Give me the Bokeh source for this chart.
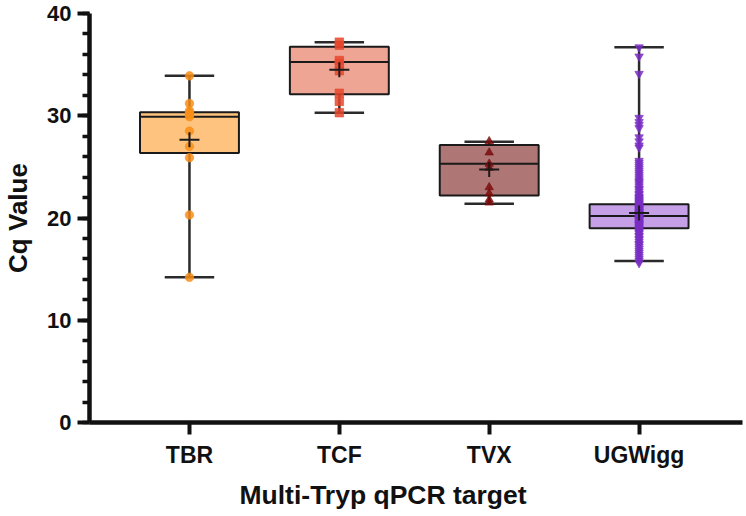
from bokeh.plotting import figure
from bokeh.models import Range1d, FixedTicker, SingleIntervalTicker, ColumnDataSource, Title
from bokeh.embed import file_html
from bokeh.resources import INLINE
import math

# Targets and box summaries (Cq values)
categories = ["TBR", "TCF", "TVX", "UGWigg"]
whisker_low = [14.2, 30.3, 21.4, 15.8]
q1 = [26.35, 32.1, 22.2, 19.0]
median = [29.9, 35.25, 25.3, 20.2]
q3 = [30.35, 36.75, 27.15, 21.35]
whisker_high = [33.9, 37.2, 27.45, 36.7]
means = [27.65, 34.5, 24.75, 20.5]

box_fill = ["#FEC47F", "#EEA594", "#AF7676", "#C6A0E6"]
point_color = ["#F98E16", "#E6472B", "#7A0C0C", "#7A2EC4"]
point_marker = ["circle", "square", "triangle", "inverted_triangle"]

# Individual measurements per target
tbr_points = [33.9, 31.2, 30.5, 30.3, 30.1, 29.9, 28.5, 27.0, 25.9, 20.3, 14.2]
tcf_points = [37.2, 36.9, 35.4, 35.1, 34.4, 32.2, 31.4, 30.3]
tvx_points = [27.5, 26.4, 25.3, 24.9, 23.0, 22.4, 21.8, 21.5]
ugwigg_points = [
    36.7, 35.8, 34.1, 29.8, 29.4, 29.1, 28.8, 27.9, 27.5, 27.1, 26.9,
    25.6, 25.4, 25.2, 25.0, 24.8, 24.6, 24.4, 24.2, 24.0, 23.8, 23.6,
    23.5, 23.3, 23.1, 22.9, 22.8, 22.6, 22.4, 22.3, 22.1, 22.0, 21.9,
    21.8, 21.7, 21.6, 21.5, 21.4, 21.3, 21.2, 21.1, 21.0, 20.9, 20.9,
    20.8, 20.7, 20.6, 20.6, 20.5, 20.4, 20.4, 20.3, 20.2, 20.2, 20.1,
    20.0, 20.0, 19.9, 19.8, 19.8, 19.7, 19.6, 19.5, 19.4, 19.4, 19.3,
    19.2, 19.1, 19.0, 18.9, 18.8, 18.7, 18.6, 18.5, 18.3, 18.2, 18.0,
    17.9, 17.7, 17.5, 17.4, 17.2, 17.0, 16.8, 16.6, 16.4, 16.2, 16.0,
    15.8, 15.6,
]
all_points = [tbr_points, tcf_points, tvx_points, ugwigg_points]

FONT = "Liberation Sans"
INK = "#111111"

p = figure(
    width=746, height=516,
    x_range=Range1d(-0.667, 3.69), y_range=Range1d(0, 40),
    output_backend="svg", toolbar_location=None,
    min_border_left=88, min_border_right=4,
    min_border_top=13, min_border_bottom=94,
)
p.outline_line_color = None
p.grid.visible = False
p.background_fill_color = "white"
p.border_fill_color = "white"

xs = list(range(len(categories)))
box_w = 0.66
cap_w = 0.33

# whiskers
p.segment(x0=xs, y0=whisker_low, x1=xs, y1=q1, line_color="#2a2a2a", line_width=2.5)
p.segment(x0=xs, y0=q3, x1=xs, y1=whisker_high, line_color="#2a2a2a", line_width=2.5)
p.segment(x0=[x - cap_w / 2 for x in xs], y0=whisker_low,
          x1=[x + cap_w / 2 for x in xs], y1=whisker_low,
          line_color="#2a2a2a", line_width=2.5)
p.segment(x0=[x - cap_w / 2 for x in xs], y0=whisker_high,
          x1=[x + cap_w / 2 for x in xs], y1=whisker_high,
          line_color="#2a2a2a", line_width=2.5)

# boxes
box_src = ColumnDataSource(dict(x=xs, bottom=q1, top=q3, fill=box_fill))
p.vbar(x="x", bottom="bottom", top="top", width=box_w, source=box_src,
       fill_color="fill", line_color="#1a1a1a", line_width=2)
p.segment(x0=[x - box_w / 2 for x in xs], y0=median,
          x1=[x + box_w / 2 for x in xs], y1=median,
          line_color="#1a1a1a", line_width=2)

# individual points
for i, pts in enumerate(all_points):
    p.scatter(x=[i] * len(pts), y=pts, marker=point_marker[i], size=8.5,
              fill_color=point_color[i], line_color=point_color[i],
              fill_alpha=0.85, line_alpha=0.6)

# means shown as "+"
p.scatter(x=xs, y=means, marker="dash", size=20, line_color="#1a1a1a", line_width=2)
p.scatter(x=xs, y=means, marker="dash", size=15, angle=math.pi / 2,
          line_color="#1a1a1a", line_width=2)

# y axis
ya = p.yaxis[0]
ya.ticker = SingleIntervalTicker(interval=10, num_minor_ticks=5)
ya.axis_label = "Cq Value"
ya.axis_line_width = 4.5
ya.axis_line_color = INK
ya.major_tick_line_width = 4
ya.major_tick_line_color = INK
ya.major_tick_out = 12
ya.major_tick_in = 0
ya.minor_tick_line_width = 3.5
ya.minor_tick_line_color = INK
ya.minor_tick_out = 7
ya.minor_tick_in = 0
ya.major_label_text_font = FONT
ya.major_label_text_font_style = "bold"
ya.major_label_text_font_size = "22px"
ya.major_label_text_color = INK
ya.major_label_standoff = 6
ya.axis_label_text_font = FONT
ya.axis_label_text_font_style = "bold"
ya.axis_label_text_font_size = "26px"
ya.axis_label_text_color = INK
ya.axis_label_standoff = 11

# x axis
xa = p.xaxis[0]
xa.ticker = FixedTicker(ticks=xs)
xa.major_label_overrides = {i: c for i, c in enumerate(categories)}
xa.axis_line_width = 4.5
xa.axis_line_color = INK
xa.major_tick_line_width = 4
xa.major_tick_line_color = INK
xa.major_tick_out = 12
xa.major_tick_in = 0
xa.minor_tick_line_color = None
xa.major_label_text_font = FONT
xa.major_label_text_font_style = "bold"
xa.major_label_text_font_size = "23px"
xa.major_label_text_color = INK
xa.major_label_standoff = 7

# x-axis title, set under the category block
p.add_layout(Title(
    text="Multi-Tryp qPCR target", align="left", offset=150,
    text_font=FONT, text_font_style="bold", text_font_size="26.5px",
    text_color=INK, standoff=14,
), "below")

open("out.html", "w").write(file_html(p, INLINE))
